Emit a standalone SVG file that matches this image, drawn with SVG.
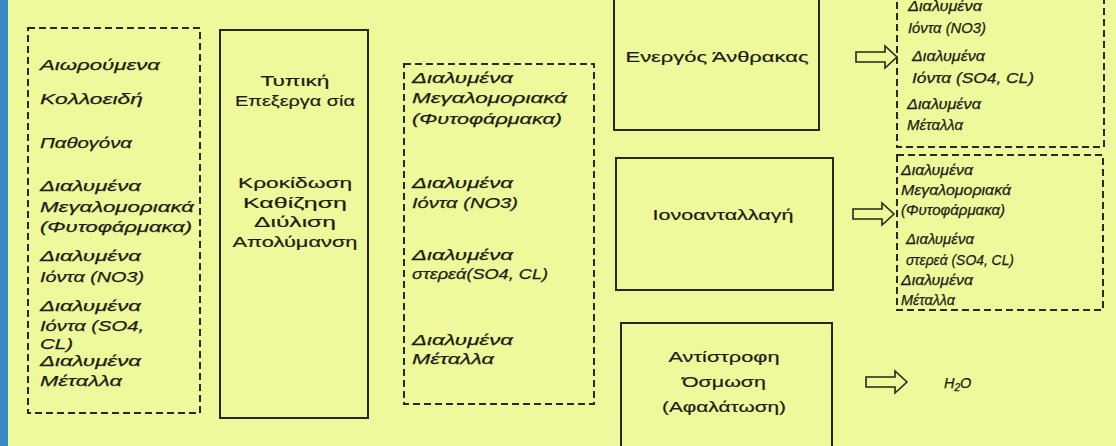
<svg xmlns="http://www.w3.org/2000/svg" width="1116" height="446" viewBox="0 0 1116 446">
<defs>
<style>
.bg{fill:#EEF99B}
.solid{fill:none;stroke:#26261a;stroke-width:2}
.dash{fill:none;stroke:#2a2a22;stroke-width:2;stroke-dasharray:7,4}
.it{font-family:"Liberation Sans",Arial,sans-serif;font-style:italic;font-size:15px;fill:#1c1c14;stroke:#1c1c14;stroke-width:0.25}
.its{font-family:"Liberation Sans",Arial,sans-serif;font-style:italic;font-size:14.5px;fill:#1c1c14;stroke:#1c1c14;stroke-width:0.25}
.rg{font-family:"Liberation Sans",Arial,sans-serif;font-size:15px;fill:#1c1c14;stroke:#1c1c14;stroke-width:0.2;text-anchor:middle}
.arr{fill:#EEF99B;stroke:#26261a;stroke-width:1.6;stroke-linejoin:miter}
</style>
<path id="blk" d="M0,-5 H29 V-11 L41,0 L29,11 V5 H0 Z"/>
</defs>
<rect class="bg" x="0" y="0" width="1116" height="446"/>
<rect x="0" y="0" width="8" height="446" fill="#3B89C9"/>

<g id="input-contaminants">
<rect class="dash" x="28" y="28" width="172" height="385"/>
<text class="it" x="40" y="70" textLength="120" lengthAdjust="spacingAndGlyphs">Αιωρούμενα</text>
<text class="it" x="40" y="104" textLength="103" lengthAdjust="spacingAndGlyphs">Κολλοειδή</text>
<text class="it" x="40" y="148" textLength="92" lengthAdjust="spacingAndGlyphs">Παθογόνα</text>
<text class="it" x="40" y="191" textLength="101" lengthAdjust="spacingAndGlyphs">Διαλυμένα</text>
<text class="it" x="40" y="212" textLength="154" lengthAdjust="spacingAndGlyphs">Μεγαλομοριακά</text>
<text class="it" x="40" y="232" textLength="152" lengthAdjust="spacingAndGlyphs">(Φυτοφάρμακα)</text>
<text class="it" x="40" y="261" textLength="101" lengthAdjust="spacingAndGlyphs">Διαλυμένα</text>
<text class="it" x="40" y="282" textLength="104" lengthAdjust="spacingAndGlyphs">Ιόντα (NO3)</text>
<text class="it" x="40" y="311" textLength="101" lengthAdjust="spacingAndGlyphs">Διαλυμένα</text>
<text class="it" x="40" y="331" textLength="104" lengthAdjust="spacingAndGlyphs">Ιόντα (SO4,</text>
<text class="it" x="40" y="349" textLength="33" lengthAdjust="spacingAndGlyphs">CL)</text>
<text class="it" x="40" y="366" textLength="101" lengthAdjust="spacingAndGlyphs">Διαλυμένα</text>
<text class="it" x="40" y="386" textLength="82" lengthAdjust="spacingAndGlyphs">Μέταλλα</text>
</g>

<g id="typical-treatment">
<rect class="solid" x="220" y="30" width="148" height="388"/>
<text class="rg" x="295" y="86" textLength="69" lengthAdjust="spacingAndGlyphs">Τυπική</text>
<text class="rg" x="295" y="106" textLength="120" lengthAdjust="spacingAndGlyphs">Επεξεργα σία</text>
<text class="rg" x="295" y="188" textLength="114" lengthAdjust="spacingAndGlyphs">Κροκίδωση</text>
<text class="rg" x="295" y="208" textLength="104" lengthAdjust="spacingAndGlyphs">Καθίζηση</text>
<text class="rg" x="295" y="227" textLength="82" lengthAdjust="spacingAndGlyphs">Διύλιση</text>
<text class="rg" x="295" y="247" textLength="125" lengthAdjust="spacingAndGlyphs">Απολύμανση</text>
</g>

<g id="remaining-contaminants">
<rect class="dash" x="404" y="64" width="190" height="340"/>
<text class="it" x="412" y="83" textLength="101" lengthAdjust="spacingAndGlyphs">Διαλυμένα</text>
<text class="it" x="412" y="103" textLength="155" lengthAdjust="spacingAndGlyphs">Μεγαλομοριακά</text>
<text class="it" x="412" y="124" textLength="150" lengthAdjust="spacingAndGlyphs">(Φυτοφάρμακα)</text>
<text class="it" x="412" y="188" textLength="101" lengthAdjust="spacingAndGlyphs">Διαλυμένα</text>
<text class="it" x="412" y="208" textLength="106" lengthAdjust="spacingAndGlyphs">Ιόντα (NO3)</text>
<text class="it" x="412" y="260" textLength="101" lengthAdjust="spacingAndGlyphs">Διαλυμένα</text>
<text class="it" x="412" y="279" textLength="136" lengthAdjust="spacingAndGlyphs">στερεά(SO4, CL)</text>
<text class="it" x="412" y="345" textLength="101" lengthAdjust="spacingAndGlyphs">Διαλυμένα</text>
<text class="it" x="412" y="364" textLength="82" lengthAdjust="spacingAndGlyphs">Μέταλλα</text>
</g>

<g id="activated-carbon">
<rect class="solid" x="614" y="-5" width="205" height="135"/>
<text class="rg" x="717" y="62" textLength="183" lengthAdjust="spacingAndGlyphs">Ενεργός Άνθρακας</text>
</g>

<g id="ion-exchange">
<rect class="solid" x="616" y="158" width="217" height="132"/>
<text class="rg" x="723" y="220" textLength="141" lengthAdjust="spacingAndGlyphs">Ιονοανταλλαγή</text>
</g>

<g id="reverse-osmosis">
<rect class="solid" x="621" y="323" width="211" height="130"/>
<text class="rg" x="724" y="362" textLength="111" lengthAdjust="spacingAndGlyphs">Αντίστροφη</text>
<text class="rg" x="724" y="387" textLength="84" lengthAdjust="spacingAndGlyphs">Όσμωση</text>
<text class="rg" x="724" y="412" textLength="124" lengthAdjust="spacingAndGlyphs">(Αφαλάτωση)</text>
</g>

<g id="carbon-output">
<rect class="dash" x="897" y="-5" width="207" height="152"/>
<text class="its" x="908" y="11" textLength="74" lengthAdjust="spacingAndGlyphs">Διαλυμένα</text>
<text class="its" x="908" y="33" textLength="78" lengthAdjust="spacingAndGlyphs">Ιόντα (NO3)</text>
<text class="its" x="912" y="61" textLength="73" lengthAdjust="spacingAndGlyphs">Διαλυμένα</text>
<text class="its" x="912" y="83" textLength="122" lengthAdjust="spacingAndGlyphs">Ιόντα (SO4, CL)</text>
<text class="its" x="907" y="109" textLength="74" lengthAdjust="spacingAndGlyphs">Διαλυμένα</text>
<text class="its" x="907" y="130" textLength="56" lengthAdjust="spacingAndGlyphs">Μέταλλα</text>
</g>

<g id="ion-exchange-output">
<rect class="dash" x="897" y="155" width="206" height="155"/>
<text class="its" x="901" y="175" textLength="72" lengthAdjust="spacingAndGlyphs">Διαλυμένα</text>
<text class="its" x="901" y="195" textLength="110" lengthAdjust="spacingAndGlyphs">Μεγαλομοριακά</text>
<text class="its" x="901" y="215" textLength="104" lengthAdjust="spacingAndGlyphs">(Φυτοφάρμακα)</text>
<text class="its" x="906" y="244" textLength="68" lengthAdjust="spacingAndGlyphs">Διαλυμένα</text>
<text class="its" x="906" y="265" textLength="108" lengthAdjust="spacingAndGlyphs">στερεά (SO4, CL)</text>
<text class="its" x="901" y="285" textLength="72" lengthAdjust="spacingAndGlyphs">Διαλυμένα</text>
<text class="its" x="901" y="305" textLength="54" lengthAdjust="spacingAndGlyphs">Μέταλλα</text>
</g>

<g id="water-output">
<text class="its" x="944" y="388" font-size="14">H<tspan font-size="10" dy="3">2</tspan><tspan dy="-3">O</tspan></text>
</g>

<g id="connectors">
<use href="#blk" class="arr" transform="translate(856,57)"/>
<use href="#blk" class="arr" transform="translate(853,214)"/>
<use href="#blk" class="arr" transform="translate(866,382)"/>
</g>
</svg>
